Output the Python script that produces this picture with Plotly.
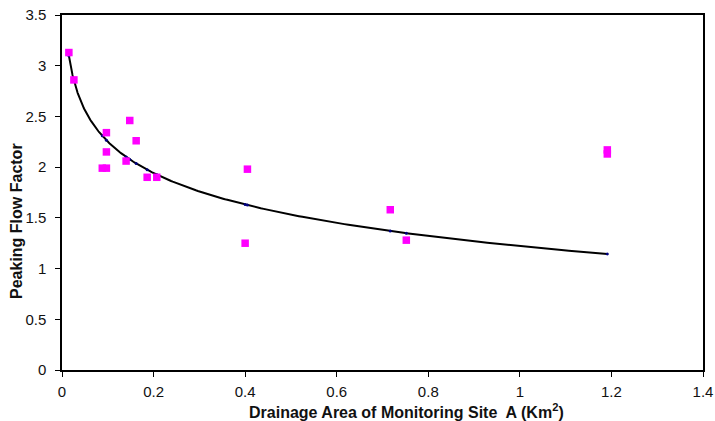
import numpy as np
import plotly.graph_objects as go

# Data
area_km2 = [0.015, 0.026, 0.088, 0.097, 0.097, 0.097, 0.140, 0.148, 0.162,
            0.186, 0.207, 0.400, 0.405, 0.717, 0.752, 1.191, 1.191]
peaking_factor = [3.13, 2.86, 1.99, 1.99, 2.15, 2.34, 2.06, 2.46, 2.26,
                  1.90, 1.90, 1.25, 1.98, 1.58, 1.28, 2.17, 2.13]

# Logarithmic trendline y = a + b*ln(x), coefficients
trend_intercept = 1.222
trend_slope = -0.447

x_ticks = [0, 0.2, 0.4, 0.6, 0.8, 1, 1.2, 1.4]
x_tick_labels = ["0", "0.2", "0.4", "0.6", "0.8", "1", "1.2", "1.4"]
y_ticks = [0, 0.5, 1, 1.5, 2, 2.5, 3, 3.5]
y_tick_labels = ["0", "0.5", "1", "1.5", "2", "2.5", "3", "3.5"]

xa = np.array(area_km2)
xs_curve = np.geomspace(xa.min(), xa.max(), 300)
ys_curve = trend_intercept + trend_slope * np.log(xs_curve)
xs_pts = np.unique(xa)
ys_pts = trend_intercept + trend_slope * np.log(xs_pts)

FONT = "Liberation Sans, Arial, sans-serif"

fig = go.Figure()
fig.add_trace(go.Scatter(x=xs_curve, y=ys_curve, mode="lines",
                         line=dict(color="black", width=2), showlegend=False,
                         hoverinfo="skip"))
fig.add_trace(go.Scatter(x=xs_pts, y=ys_pts, mode="markers",
                         marker=dict(color="#000080", size=3), showlegend=False))
fig.add_trace(go.Scatter(x=area_km2, y=peaking_factor, mode="markers",
                         marker=dict(color="#FF00FF", size=7.5, symbol="square",
                                     line=dict(width=0)),
                         showlegend=False))

fig.update_layout(
    width=715, height=421,
    margin=dict(l=62, r=12, t=15, b=51, autoexpand=False),
    paper_bgcolor="white", plot_bgcolor="white",
    font=dict(family=FONT, size=15, color="#111111"),
    xaxis=dict(range=[0, 1.4], tickvals=x_ticks, ticktext=x_tick_labels,
               showgrid=False, zeroline=False, showline=True, linecolor="black",
               linewidth=1.5, mirror=True, ticks="outside", ticklen=5,
               tickcolor="black", tickfont=dict(size=15, family=FONT),
               ticklabelstandoff=2, automargin=False, ticklabeloverflow="allow"),
    yaxis=dict(range=[0, 3.5], tickvals=y_ticks, ticktext=y_tick_labels,
               showgrid=False, zeroline=False, showline=True, linecolor="black",
               linewidth=1.5, mirror=True, ticks="outside", ticklen=5,
               tickcolor="black", tickfont=dict(size=15, family=FONT),
               ticklabelstandoff=6, automargin=False, ticklabeloverflow="allow"),
    annotations=[
        dict(text="<b>Drainage Area of Monitoring Site  A (Km<sup>2</sup>)</b>",
             xref="paper", yref="paper", x=0.538, y=-0.1146,
             xanchor="center", yanchor="middle", showarrow=False,
             font=dict(size=16, family=FONT)),
        dict(text="<b>Peaking Flow Factor</b>",
             xref="paper", yref="paper", x=-0.0718, y=0.4197,
             xanchor="center", yanchor="middle", showarrow=False, textangle=-90,
             font=dict(size=16, family=FONT)),
    ],
)

fig.write_html("out.html",
               config={"displayModeBar": False},
               post_script="document.body.style.margin='0';"
                           "document.body.style.overflow='hidden';")
